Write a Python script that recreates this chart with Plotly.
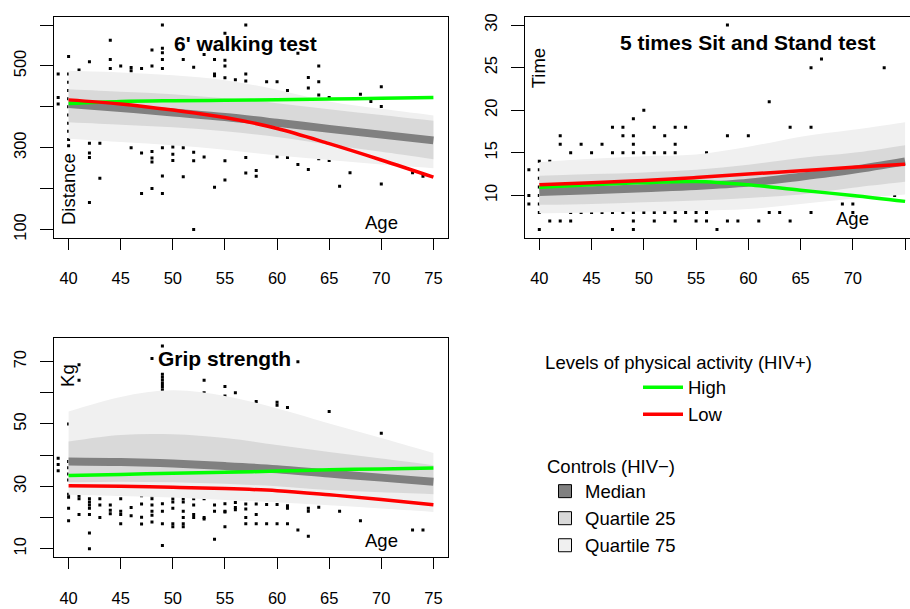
import plotly.graph_objects as go

# ---------------- data ----------------
curve_ages = [40, 45, 50, 55, 60, 65, 70, 75]

# Panel 1: 6' walking test (Distance)
walk_q75_hi = [488, 484, 477, 465, 442, 413, 395, 379]
walk_q25_hi = [443, 437, 431, 421, 409, 394, 380, 366]
walk_q25_lo = [362, 356, 350, 340, 326, 307, 290, 272]
walk_q75_lo = [322, 314, 306, 295, 281, 270, 259, 250]
walk_median = [407, 397, 386, 375, 361, 346, 332, 318]
walk_high = [408, 413, 415, 416, 417, 419, 421, 423]
walk_low = [417, 407, 392, 374, 347, 310, 270, 228]

walk_pts = {
    39: [480, 423, 407],
    40: [523, 480, 460, 440, 420, 400, 380, 360, 340, 320, 305],
    41: [490],
    42: [510, 311, 287, 276, 166],
    43: [311, 225],
    44: [563, 516, 494],
    45: [500],
    46: [496, 488, 300],
    47: [494, 287, 188],
    48: [539, 500, 291, 275, 265, 200],
    49: [600, 543, 532, 516, 494, 300, 231, 188],
    50: [302, 284, 269],
    51: [516, 300, 229],
    52: [497, 289, 268, 100],
    53: [528, 277],
    54: [516, 480, 476, 203],
    55: [580, 514, 500, 471, 268, 221],
    56: [466],
    57: [600, 480, 463, 276, 238],
    58: [244, 230],
    59: [461],
    60: [461, 278],
    61: [440, 276],
    62: [531, 259],
    63: [472, 446, 247],
    64: [500, 461, 429, 273],
    65: [423, 269],
    66: [206],
    67: [239],
    68: [431],
    69: [413],
    70: [449, 401, 211],
    72: [377],
    73: [239],
    74: [230],
}

# Panel 2: 5 times Sit and Stand test (Time)
sit_q75_hi = [13.9, 14.3, 14.6, 14.8, 15.7, 16.9, 17.7, 18.6]
sit_q25_hi = [12.3, 12.5, 12.7, 13.0, 13.6, 14.4, 15.0, 15.9]
sit_q25_lo = [8.9, 9.0, 9.2, 9.4, 9.7, 10.1, 10.9, 11.6]
sit_q75_lo = [7.9, 8.0, 8.1, 8.2, 8.4, 9.0, 9.6, 10.1]
sit_median = [10.4, 10.6, 10.85, 11.1, 11.5, 12.2, 13.0, 14.0]
sit_high = [10.95, 11.25, 11.5, 11.64, 11.25, 10.6, 10.0, 9.3]
sit_low = [11.25, 11.5, 11.75, 12.1, 12.5, 12.9, 13.3, 13.67]

sit_pts = {
    39: [13, 10, 9],
    40: [14, 13, 12, 11, 10, 9, 8, 6],
    41: [14, 7],
    42: [17, 16, 7],
    43: [15, 8, 7],
    44: [16, 8],
    45: [15, 8],
    46: [16, 8],
    47: [18, 15, 8, 6],
    48: [18, 17, 15, 8],
    49: [19, 17, 16, 15, 8, 7, 6],
    50: [20, 15, 8],
    51: [18, 15, 8, 7],
    52: [17, 15, 8],
    53: [18, 16, 15, 8, 7],
    54: [18, 8],
    55: [8, 7],
    56: [15, 8, 7],
    57: [6],
    58: [30, 17, 7],
    59: [7],
    60: [17],
    61: [7],
    62: [21, 8],
    63: [8],
    64: [18, 7],
    66: [25, 18, 8],
    67: [26],
    69: [15, 9],
    70: [15, 9, 8],
    73: [25],
    74: [10],
}

# Panel 3: Grip strength (Kg)
grip_q75_hi = [54.0, 58.7, 60.8, 59.0, 55.0, 50.2, 45.5, 40.7]
grip_q25_hi = [44.4, 46.5, 46.7, 45.5, 43.3, 41.0, 38.9, 36.8]
grip_q25_lo = [31.3, 31.5, 31.3, 30.8, 30.0, 28.8, 28.1, 27.5]
grip_q75_lo = [27.3, 26.9, 26.4, 25.6, 24.9, 23.9, 22.9, 21.8]
grip_median = [38.0, 37.8, 37.3, 36.5, 35.5, 34.1, 32.8, 31.5]
grip_high = [33.5, 33.8, 34.2, 34.5, 34.9, 35.3, 35.6, 35.9]
grip_low = [30.2, 30.0, 29.7, 29.3, 28.6, 27.3, 25.8, 24.1]

grip_pts = {
    39: [39, 37, 35],
    40: [50, 38, 36, 34, 32, 27.5, 26.5, 23, 19],
    41: [69, 64, 27, 26, 21],
    42: [28, 26, 25, 24, 23, 21, 15, 10],
    43: [28, 26, 24, 20],
    44: [24, 22.3, 21.2],
    45: [26, 22, 21, 18],
    46: [27.5, 23.2, 20.6],
    47: [27, 24.3, 20.1, 17.9],
    48: [71, 27, 26, 24, 22, 20.7, 18.6],
    49: [75, 66, 65, 64, 63, 62, 61, 24.4, 22, 18, 11],
    50: [26, 25, 23, 18, 17],
    51: [26, 25, 22, 20, 18, 17],
    52: [26, 24, 21, 20],
    53: [64, 60, 26, 20, 19.5],
    54: [24, 22, 13],
    55: [62, 59, 24.4, 22, 21.8, 17],
    56: [60, 24.8, 23.2, 22.5],
    57: [24.3, 22.7, 20, 18],
    58: [57.2, 24.3, 21, 18],
    59: [24.2, 18],
    60: [57, 56, 24.2, 18],
    61: [55.3, 23.8, 23, 18],
    62: [70, 16],
    63: [23, 22, 14],
    64: [23.3],
    65: [54],
    66: [22],
    68: [19],
    70: [47],
    73: [16],
    74: [16],
}

x_ticks = [40, 45, 50, 55, 60, 65, 70, 75]
walk_yticks = [100, 200, 300, 400, 500, 600]
walk_ylabels = ["100", "", "300", "", "500", ""]
sit_yticks = [10, 15, 20, 25, 30]
sit_ylabels = ["10", "15", "20", "25", "30"]
grip_yticks = [10, 20, 30, 40, 50, 60, 70]
grip_ylabels = ["10", "", "30", "", "50", "", "70"]

# ---------------- styles ----------------
FONT = "Liberation Sans, Arial, Helvetica, sans-serif"
LIGHT = "#f0f0f0"
DARK = "#d9d9d9"
MED = "#808080"
GREEN = "#00ff00"
RED = "#ff0000"

fig = go.Figure()


def flatten(pts):
    xs, ys = [], []
    for a, vals in pts.items():
        for v in vals:
            xs.append(a)
            ys.append(v)
    return xs, ys


def add_panel(xa, ya, pts, q75hi, q25hi, q25lo, q75lo, med, high, low, show):
    px_, py_ = flatten(pts)
    fig.add_trace(go.Scatter(x=px_, y=py_, mode="markers", xaxis=xa, yaxis=ya,
                             marker=dict(symbol="square", size=3, color="black", line=dict(width=0)),
                             showlegend=False, hoverinfo="skip"))
    for lo, hi, col in ((q75lo, q75hi, LIGHT), (q25lo, q25hi, DARK)):
        fig.add_trace(go.Scatter(x=curve_ages, y=lo, mode="lines", xaxis=xa, yaxis=ya,
                                 line=dict(width=0, shape="spline", color=col),
                                 showlegend=False, hoverinfo="skip"))
        fig.add_trace(go.Scatter(x=curve_ages, y=hi, mode="lines", xaxis=xa, yaxis=ya,
                                 fill="tonexty", fillcolor=col,
                                 line=dict(width=0, shape="spline", color=col),
                                 showlegend=False, hoverinfo="skip"))
    fig.add_trace(go.Scatter(x=curve_ages, y=med, mode="lines", xaxis=xa, yaxis=ya,
                             line=dict(width=8, shape="spline", color=MED),
                             showlegend=False, hoverinfo="skip"))
    fig.add_trace(go.Scatter(x=curve_ages, y=high, mode="lines", xaxis=xa, yaxis=ya, name="High",
                             line=dict(width=3.5, shape="spline", color=GREEN),
                             showlegend=show, legend="legend"))
    fig.add_trace(go.Scatter(x=curve_ages, y=low, mode="lines", xaxis=xa, yaxis=ya, name="Low",
                             line=dict(width=3.5, shape="spline", color=RED),
                             showlegend=show, legend="legend"))


add_panel("x", "y", walk_pts, walk_q75_hi, walk_q25_hi, walk_q25_lo, walk_q75_lo,
          walk_median, walk_high, walk_low, True)
add_panel("x2", "y2", sit_pts, sit_q75_hi, sit_q25_hi, sit_q25_lo, sit_q75_lo,
          sit_median, sit_high, sit_low, False)
add_panel("x3", "y3", grip_pts, grip_q75_hi, grip_q25_hi, grip_q25_lo, grip_q75_lo,
          grip_median, grip_high, grip_low, False)

for nm, col in (("Median", MED), ("Quartile 25", DARK), ("Quartile 75", LIGHT)):
    fig.add_trace(go.Scatter(x=[None], y=[None], mode="markers", name=nm, legend="legend2",
                             marker=dict(symbol="square", size=13, color=col,
                                         line=dict(color="black", width=1))))

xcommon = dict(tickvals=x_ticks, ticktext=[str(t) for t in x_ticks], ticks="outside", ticklen=11,
               tickwidth=1, tickcolor="black", showline=True, linecolor="black", linewidth=1,
               showgrid=False, zeroline=False, ticklabelstandoff=15,
               tickfont=dict(family=FONT, size=16.5, color="black"))
ycommon = dict(ticks="outside", ticklen=13, tickwidth=1, tickcolor="black", showline=True,
               linecolor="black", linewidth=1, showgrid=False, zeroline=False, tickangle=-90,
               ticklabelstandoff=7, tickfont=dict(family=FONT, size=16.5, color="black"))

d13 = [54 / 910, 448 / 910]
top_dom = [1 - 237 / 609, 1 - 14 / 609]
bot_dom = [1 - 559.3 / 609, 1 - 338.3 / 609]

fig.update_layout(
    width=910, height=609, autosize=False,
    margin=dict(l=0, r=0, t=0, b=0),
    paper_bgcolor="white", plot_bgcolor="white",
    font=dict(family=FONT, color="black"),
    xaxis=dict(domain=d13, range=[38.6, 76.4], anchor="y", mirror=True, **xcommon),
    yaxis=dict(domain=top_dom, range=[80, 620], anchor="x", mirror=True,
               tickvals=walk_yticks, ticktext=walk_ylabels, **ycommon),
    xaxis2=dict(domain=[525 / 910, 1], range=[38.63, 75.47], anchor="y2", mirror=True, **xcommon),
    yaxis2=dict(domain=top_dom, range=[5.04, 30.96], anchor="x2", mirror=False,
                tickvals=sit_yticks, ticktext=sit_ylabels, **ycommon),
    xaxis3=dict(domain=d13, range=[38.6, 76.4], anchor="y3", mirror=True, **xcommon),
    yaxis3=dict(domain=bot_dom, range=[7.4, 77.6], anchor="x3", mirror=True,
                tickvals=grip_yticks, ticktext=grip_ylabels, **ycommon),
    legend=dict(title=dict(text="Levels of physical activity (HIV+)", side="top center",
                           font=dict(family=FONT, size=18.5)),
                x=543 / 910, y=1 - 345 / 609, xanchor="left", yanchor="top",
                font=dict(family=FONT, size=18.5), indentation=95, itemwidth=40,
                traceorder="normal",
                bgcolor="rgba(0,0,0,0)", tracegroupgap=0),
    legend2=dict(title=dict(text="Controls (HIV\u2212)", side="top",
                            font=dict(family=FONT, size=18.5)),
                 x=545 / 910, y=1 - 450 / 609, xanchor="left", yanchor="top",
                 font=dict(family=FONT, size=18.5), indentation=0, traceorder="normal",
                 bgcolor="rgba(0,0,0,0)", tracegroupgap=0),
)

ann = []
def label(text, xref, yref, x, y, size, bold=False, angle=0):
    ann.append(dict(text=("<b>%s</b>" % text) if bold else text, xref=xref, yref=yref, x=x, y=y,
                    showarrow=False, xanchor="center", yanchor="middle", textangle=angle,
                    font=dict(family=FONT, size=size, color="black")))

label("6' walking test", "x", "y", 57.0, 556, 21, bold=True)
label("5 times Sit and Stand test", "x2", "y2", 60.0, 27.9, 21, bold=True)
label("Grip strength", "x3", "y3", 55.0, 71.0, 21, bold=True)
label("Distance", "x", "y", 39.95, 199, 18.5, angle=-90)
label("Age", "x", "y", 70, 118, 18.5)
label("Time", "x2", "y2", 39.95, 24.9, 18.5, angle=-90)
label("Age", "x2", "y2", 70, 7.3, 18.5)
label("Kg", "x3", "y3", 39.9, 65.6, 18.5, angle=-90)
label("Age", "x3", "y3", 70, 12.6, 18.5)
fig.update_layout(annotations=ann)

fig.write_html("out.html", config={"displayModeBar": False},
               post_script="document.body.style.margin='0';document.body.style.padding='0';")
